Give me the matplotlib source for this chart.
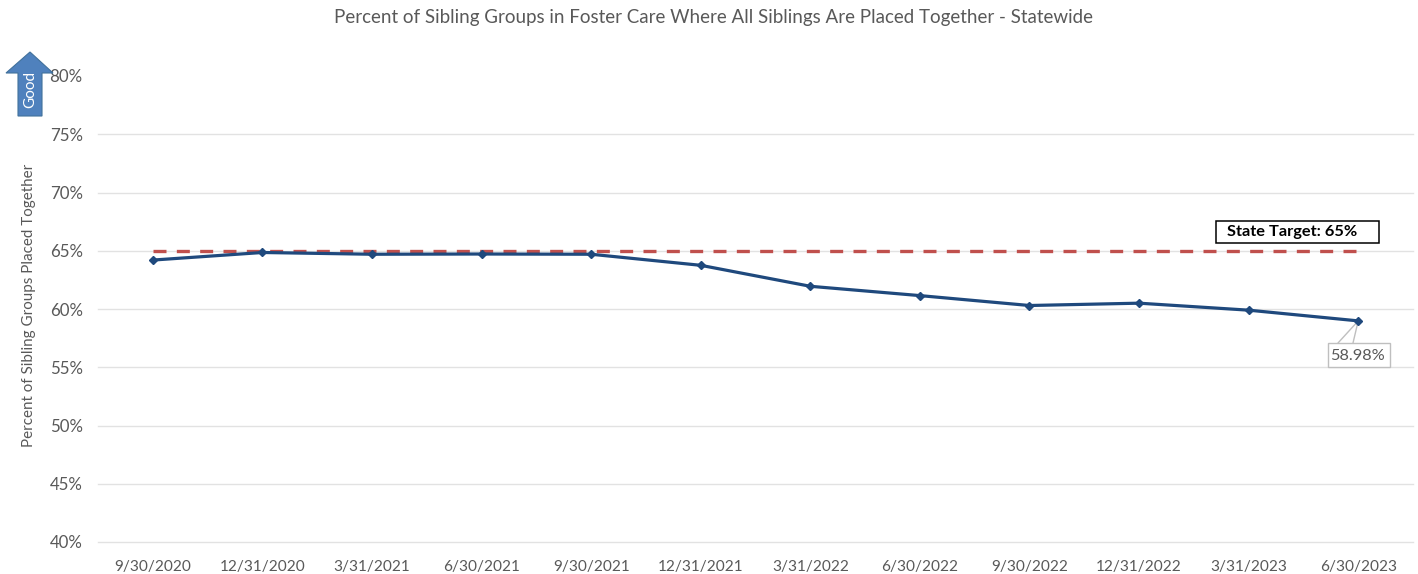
#!/usr/bin/env python3
import matplotlib
matplotlib.use("Agg")
import matplotlib.pyplot as plt
from matplotlib.patches import Polygon, Rectangle

W, H = 1418, 574

quarters = ['9/30/2020', '12/31/2020', '3/31/2021', '6/30/2021', '9/30/2021', '12/31/2021',
            '3/31/2022', '6/30/2022', '9/30/2022', '12/31/2022', '3/31/2023', '6/30/2023']
pct_together = [64.2, 64.85, 64.7, 64.72, 64.7, 63.75, 61.95, 61.15, 60.3, 60.5, 59.9, 58.98]
state_target = [65] * 12
y_ticks = [40, 45, 50, 55, 60, 65, 70, 75, 80]

GREY = '#595959'
plt.rcParams['font.family'] = ['Lato', 'DejaVu Sans']


def px(a, b):
    # reference pixel -> figure fraction
    return a / W, 1 - b / H


fig = plt.figure(figsize=(W / 100, H / 100), dpi=100)
# axes box in pixels of the reference: x 98-1413, y 76-542
ax = fig.add_axes([98 / W, 1 - 542 / H, (1413 - 98) / W, (542 - 76) / H])

x = list(range(len(quarters)))
ax.plot(x, state_target, color='#C0504D', lw=2.4, dashes=(3.9, 3.1), dash_capstyle='butt', zorder=3)
ax.plot(x, pct_together, color='#1F497D', lw=2.3, marker='D', ms=4.5, zorder=4)

ax.set_xlim(-0.5, 11.5)
ax.set_ylim(40, 80)
ax.set_xticks(x)
ax.set_xticklabels(quarters, fontsize=11.1, color=GREY)
ax.set_yticks(y_ticks)
ax.set_yticklabels([f'{v}%' for v in y_ticks], fontsize=12.2, color=GREY)
ax.tick_params(length=0)
ax.tick_params(axis='y', pad=11)
ax.tick_params(axis='x', pad=13)
ax.grid(axis='y', color='#E2E2E2', lw=1, clip_on=False)
ax.get_ygridlines()[-1].set_visible(False)
ax.set_axisbelow(True)
for name in ['top', 'right', 'left', 'bottom']:
    ax.spines[name].set_visible(False)

fig.text(*px(714, 17), 'Percent of Sibling Groups in Foster Care Where All Siblings Are Placed Together - Statewide',
         ha='center', va='center', fontsize=13.5, color=GREY)
fig.text(*px(29, 305), 'Percent of Sibling Groups Placed Together', rotation=90,
         ha='center', va='center', fontsize=10.9, color=GREY)

# "Good" arrow
arrow_px = [(30, 52), (53, 73), (42, 73), (42, 116), (18, 116), (18, 73), (6, 73)]
fig.add_artist(Polygon([px(a, b) for a, b in arrow_px], closed=True, transform=fig.transFigure,
                       facecolor='#4F81BD', edgecolor='#41719C', lw=0.8))
fig.text(*px(30, 89), 'Good', rotation=90, ha='center', va='center', fontsize=11, color='white')

# target label, text sits left of centre in the box
fig.add_artist(Rectangle(px(1216, 243), 163 / W, 22 / H, transform=fig.transFigure,
                         facecolor='white', edgecolor='black', lw=1.1, zorder=5))
fig.text(*px(1227, 232), 'State Target: 65%', ha='left', va='center',
         fontsize=11.8, fontweight='bold', color='black', zorder=6)

# last point callout, two leader lines make the wedge
for foot in [(1338, 343), (1353, 343)]:
    ax.annotate('', xy=(x[-1], pct_together[-1]), xycoords='data', xytext=px(*foot), textcoords='figure fraction',
                arrowprops=dict(arrowstyle='-', color='#BFBFBF', lw=1, shrinkA=0, shrinkB=0), zorder=2)
fig.add_artist(Rectangle(px(1328, 367), 62 / W, 24 / H, transform=fig.transFigure,
                         facecolor='white', edgecolor='#BFBFBF', lw=1, zorder=5))
fig.text(*px(1358, 356), '58.98%', ha='center', va='center', fontsize=11.8, color=GREY, zorder=6)

fig.savefig('out.png', dpi=100, facecolor='white')
